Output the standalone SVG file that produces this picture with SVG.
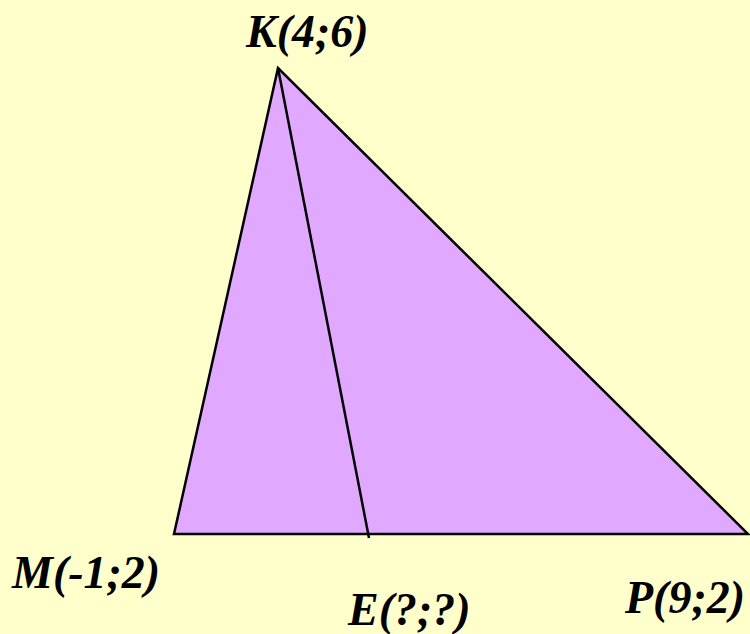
<svg xmlns="http://www.w3.org/2000/svg" width="750" height="634" viewBox="0 0 750 634">
<style>
.edge{stroke:#000;stroke-width:2.5;fill:none}
</style>
<rect width="750" height="634" fill="#FFFFCC"/>
<g id="triangle">
<polygon points="278,68 174,534 748,534" fill="#E0A8FF" stroke="#000" stroke-width="2.5" stroke-linejoin="miter"/>
</g>
<g id="connectors">
<line class="edge" x1="278" y1="68" x2="369" y2="538"/>
</g>
<g font-family="Liberation Serif, Times New Roman, serif" font-weight="700" font-style="italic" font-size="46" fill="#000">
<g id="K"><text x="246" y="47">K(4;6)</text></g>
<g id="M"><text x="12" y="588">M(-1;2)</text></g>
<g id="E"><text x="348" y="625">E(?;?)</text></g>
<g id="P"><text x="625" y="613">P(9;2)</text></g>
</g>
</svg>
